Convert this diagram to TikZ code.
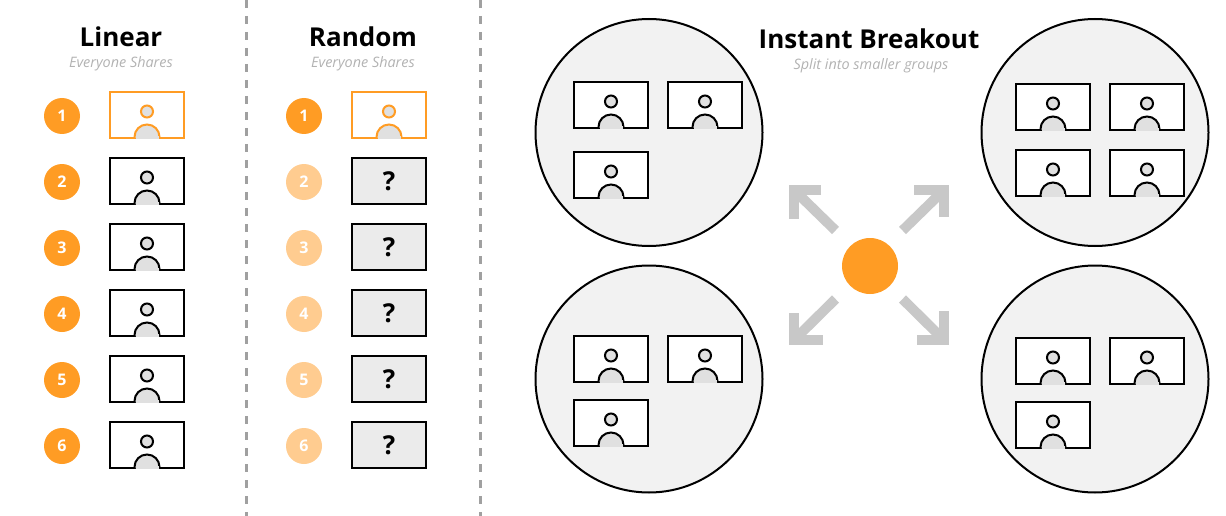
\documentclass[tikz,border=0pt]{standalone}
\usepackage{fontspec}
\setmainfont{Open Sans}
\usepackage{tikz}
\definecolor{sharedorange}{RGB}{255,156,36}
\definecolor{fadedorange}{RGB}{255,204,144}
\definecolor{roomgray}{RGB}{242,242,242}
\definecolor{hiddengray}{RGB}{235,235,235}
\definecolor{bodygray}{RGB}{224,224,224}
\definecolor{spokegray}{RGB}{200,200,200}
\definecolor{subgray}{RGB}{178,178,178}
\definecolor{rulegray}{RGB}{160,160,160}

\begin{document}
\begin{tikzpicture}[
  x=1pt, y=-1pt,
  title/.style={font=\bfseries\fontsize{26}{30}\selectfont, color=black, inner sep=0pt},
  subtitle/.style={font=\itshape\fontsize{14.4}{16}\selectfont, color=subgray, inner sep=0pt},
  badge/.style={circle, minimum size=36pt, inner sep=0pt, fill=sharedorange, text=white,
                font=\bfseries\fontsize{16}{18}\selectfont},
  fadedbadge/.style={badge, fill=fadedorange},
  cardbox/.style={rectangle, minimum width=74pt, minimum height=46pt, inner sep=0pt,
                  line width=2pt, fill=white},
  hiddenbox/.style={cardbox, draw=black, fill=hiddengray, font=\bfseries\fontsize{26}{28}\selectfont},
  room/.style={circle, minimum size=227pt, inner sep=0pt, draw=black, line width=2pt, fill=roomgray},
  hub/.style={circle, minimum size=56pt, inner sep=0pt, fill=sharedorange},
  spoke/.style={line width=10pt, color=spokegray},
  spokehead/.style={line width=10pt, color=spokegray, miter limit=10},
  divider/.style={line width=3pt, color=rulegray, dash pattern=on 8pt off 8pt},
  pics/usercard/.style={code={
    \node[cardbox, draw=#1] (-box) at (0,0) {};
    \draw[line width=2pt, draw=#1, fill=bodygray] (-12.5,23) -- (-12.5,22)
      arc[start angle=180, end angle=360, radius=12.5] -- (12.5,23);
    \fill[bodygray] (-11.5,21) rectangle (11.5,24);
    \node[circle, minimum size=12pt, inner sep=0pt, line width=2pt, draw=#1, fill=bodygray]
      (-head) at (0,-3.5) {};
  }}
]
\useasboundingbox (0,0) rectangle (1226,516);

% Dividers
\coordinate (rule1top) at (246,0);
\coordinate (rule1bot) at (246,516);
\coordinate (rule2top) at (480,0);
\coordinate (rule2bot) at (480,516);
\draw[divider] (rule1top) -- (rule1bot);
\draw[divider] (rule2top) -- (rule2bot);

% Linear column
\node[title] (lintitle) at (121,37) {Linear};
\node[subtitle] (linsub) at (121,64) {Everyone Shares};
\node[badge] (linnum1) at (62,116) {1};
\node[badge] (linnum2) at (62,182) {2};
\node[badge] (linnum3) at (62,248) {3};
\node[badge] (linnum4) at (62,314) {4};
\node[badge] (linnum5) at (62,380) {5};
\node[badge] (linnum6) at (62,446) {6};
\pic (lincard1) at (147,115) {usercard=sharedorange};
\pic (lincard2) at (147,181) {usercard=black};
\pic (lincard3) at (147,247) {usercard=black};
\pic (lincard4) at (147,313) {usercard=black};
\pic (lincard5) at (147,379) {usercard=black};
\pic (lincard6) at (147,445) {usercard=black};

% Random column
\node[title] (rndtitle) at (363,37) {Random};
\node[subtitle] (rndsub) at (363,64) {Everyone Shares};
\node[badge] (rndnum1) at (304,116) {1};
\node[fadedbadge] (rndnum2) at (304,182) {2};
\node[fadedbadge] (rndnum3) at (304,248) {3};
\node[fadedbadge] (rndnum4) at (304,314) {4};
\node[fadedbadge] (rndnum5) at (304,380) {5};
\node[fadedbadge] (rndnum6) at (304,446) {6};
\pic (rndcard1) at (389,115) {usercard=sharedorange};
\node[hiddenbox] (rndcard2) at (389,181) {?};
\node[hiddenbox] (rndcard3) at (389,247) {?};
\node[hiddenbox] (rndcard4) at (389,313) {?};
\node[hiddenbox] (rndcard5) at (389,379) {?};
\node[hiddenbox] (rndcard6) at (389,445) {?};

% Breakout rooms
\node[room] (roomtl) at (649,132.5) {};
\node[room] (roomtr) at (1095,132.5) {};
\node[room] (roombl) at (649,379) {};
\node[room] (roombr) at (1095,379) {};
\node[title] (brktitle) at (869,39) {Instant Breakout};
\node[subtitle] (brksub) at (871,66) {Split into smaller groups};

\pic (tlcard1) at (611,105) {usercard=black};
\pic (tlcard2) at (705,105) {usercard=black};
\pic (tlcard3) at (611,175) {usercard=black};

\pic (trcard1) at (1053,107) {usercard=black};
\pic (trcard2) at (1147,107) {usercard=black};
\pic (trcard3) at (1053,173) {usercard=black};
\pic (trcard4) at (1147,173) {usercard=black};

\pic (blcard1) at (611,359) {usercard=black};
\pic (blcard2) at (705,359) {usercard=black};
\pic (blcard3) at (611,423) {usercard=black};

\pic (brcard1) at (1053,361) {usercard=black};
\pic (brcard2) at (1147,361) {usercard=black};
\pic (brcard3) at (1053,425) {usercard=black};

% Hub and spokes
\node[hub] (hub) at (870,266) {};
\coordinate (tltail) at (835.5,230.5);
\coordinate (tltip) at (794,190);
\coordinate (trtail) at (902.5,230.5);
\coordinate (trtip) at (944,190);
\coordinate (bltail) at (835.5,299);
\coordinate (bltip) at (794,340);
\coordinate (brtail) at (902.5,299);
\coordinate (brtip) at (944,340);
\draw[spoke] (tltail) -- (tltip);
\draw[spoke] (trtail) -- (trtip);
\draw[spoke] (bltail) -- (bltip);
\draw[spoke] (brtail) -- (brtip);
\draw[spokehead] (821,190) -- (tltip) -- (794,219);
\draw[spokehead] (914,190) -- (trtip) -- (944,217);
\draw[spokehead] (794,313) -- (bltip) -- (823,340);
\draw[spokehead] (944,311) -- (brtip) -- (917,340);

\end{tikzpicture}
\end{document}
